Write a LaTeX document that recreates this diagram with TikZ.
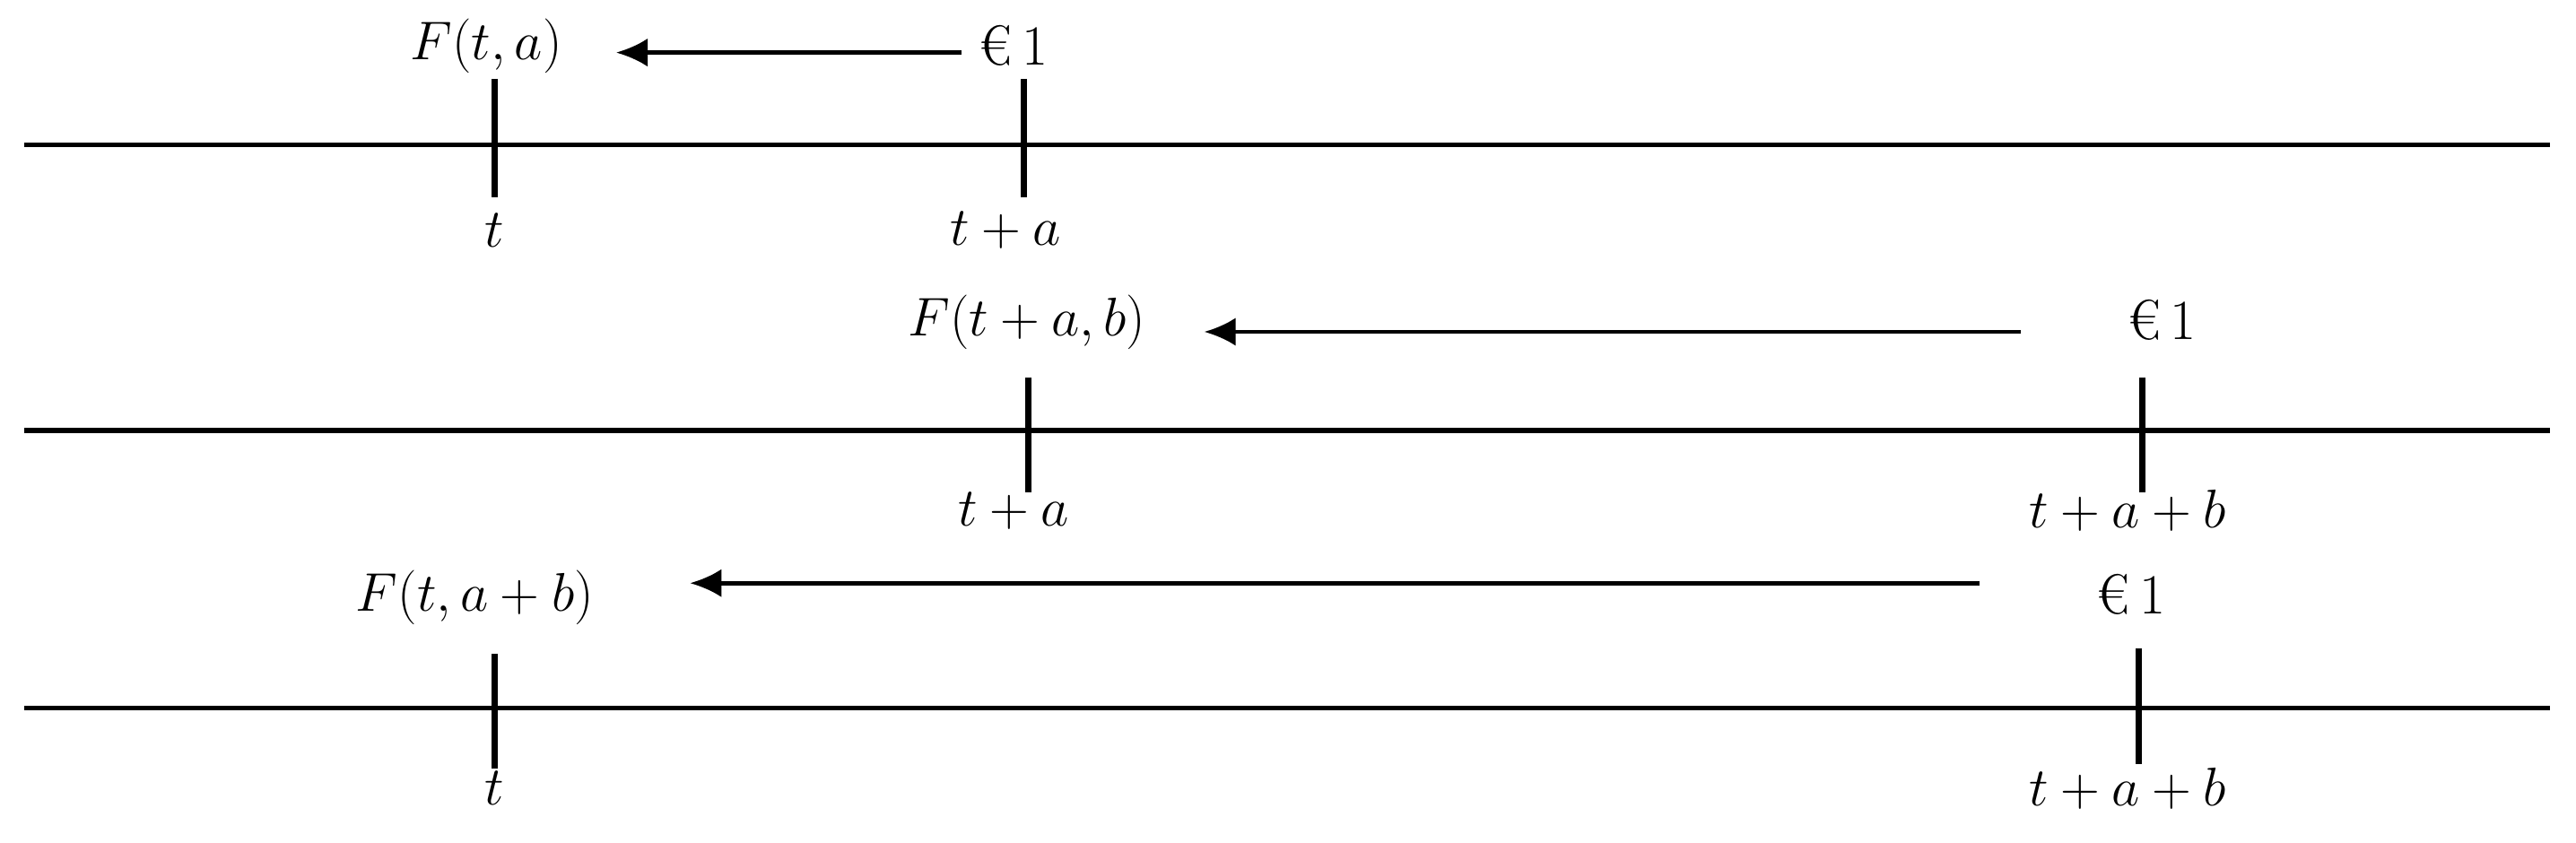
\documentclass[tikz,border=0pt]{standalone}
\usepackage{fontspec}
\begin{document}
\begin{tikzpicture}[x={(0.01832cm,0)},y={(0,-0.01832cm)},
  axis/.style={line width=1.5pt},
  tick/.style={line width=2pt},
  lbl/.style={font=\fontsize{18}{20}\selectfont},
  arr/.style={line width=1.3pt,-{Latex[length=10pt,width=9pt]}}]
\usetikzlibrary{arrows.meta}
\useasboundingbox (0,0) rectangle (1568,513);
% row 1
\coordinate (l1a) at (15,88); \coordinate (l1b) at (1552,88);
\draw[axis] (l1a) -- (l1b);
\coordinate (t1a) at (301,48); \coordinate (t1b) at (301,120);
\coordinate (t2a) at (623,48); \coordinate (t2b) at (623,120);
\draw[tick] (t1a) -- (t1b); \draw[tick] (t2a) -- (t2b);
\node[lbl] (f1) at (296,28) {$F(t,a)$};
\node[lbl] (e1) at (617,28) {€\,1};
\node[lbl] (s1) at (301,140) {$t$};
\node[lbl] (s2) at (612,140) {$t+a$};
\coordinate (a1s) at (585,32); \coordinate (a1e) at (375,32);
\draw[arr] (a1s) -- (a1e);
% row 2
\coordinate (l2a) at (15,262); \coordinate (l2b) at (1552,262);
\draw[axis] (l2a) -- (l2b);
\coordinate (t3a) at (626,230); \coordinate (t3b) at (626,300);
\coordinate (t4a) at (1304,230); \coordinate (t4b) at (1304,300);
\draw[tick] (t3a) -- (t3b); \draw[tick] (t4a) -- (t4b);
\node[lbl] (f2) at (625,196) {$F(t+a,b)$};
\node[lbl] (e2) at (1316,195) {€\,1};
\node[lbl] (s3) at (617,311) {$t+a$};
\node[lbl] (s4) at (1295,311) {$t+a+b$};
\coordinate (a2s) at (1230,202); \coordinate (a2e) at (733,202);
\draw[arr] (a2s) -- (a2e);
% row 3
\coordinate (l3a) at (15,431); \coordinate (l3b) at (1552,431);
\draw[axis] (l3a) -- (l3b);
\coordinate (t5a) at (301,398); \coordinate (t5b) at (301,468);
\coordinate (t6a) at (1302,395); \coordinate (t6b) at (1302,465);
\draw[tick] (t5a) -- (t5b); \draw[tick] (t6a) -- (t6b);
\node[lbl] (f3) at (289,364) {$F(t,a+b)$};
\node[lbl] (e3) at (1297,362) {€\,1};
\node[lbl] (s5) at (301,480) {$t$};
\node[lbl] (s6) at (1295,480) {$t+a+b$};
\coordinate (a3s) at (1205,355); \coordinate (a3e) at (420,355);
\draw[arr] (a3s) -- (a3e);
\end{tikzpicture}
\end{document}
